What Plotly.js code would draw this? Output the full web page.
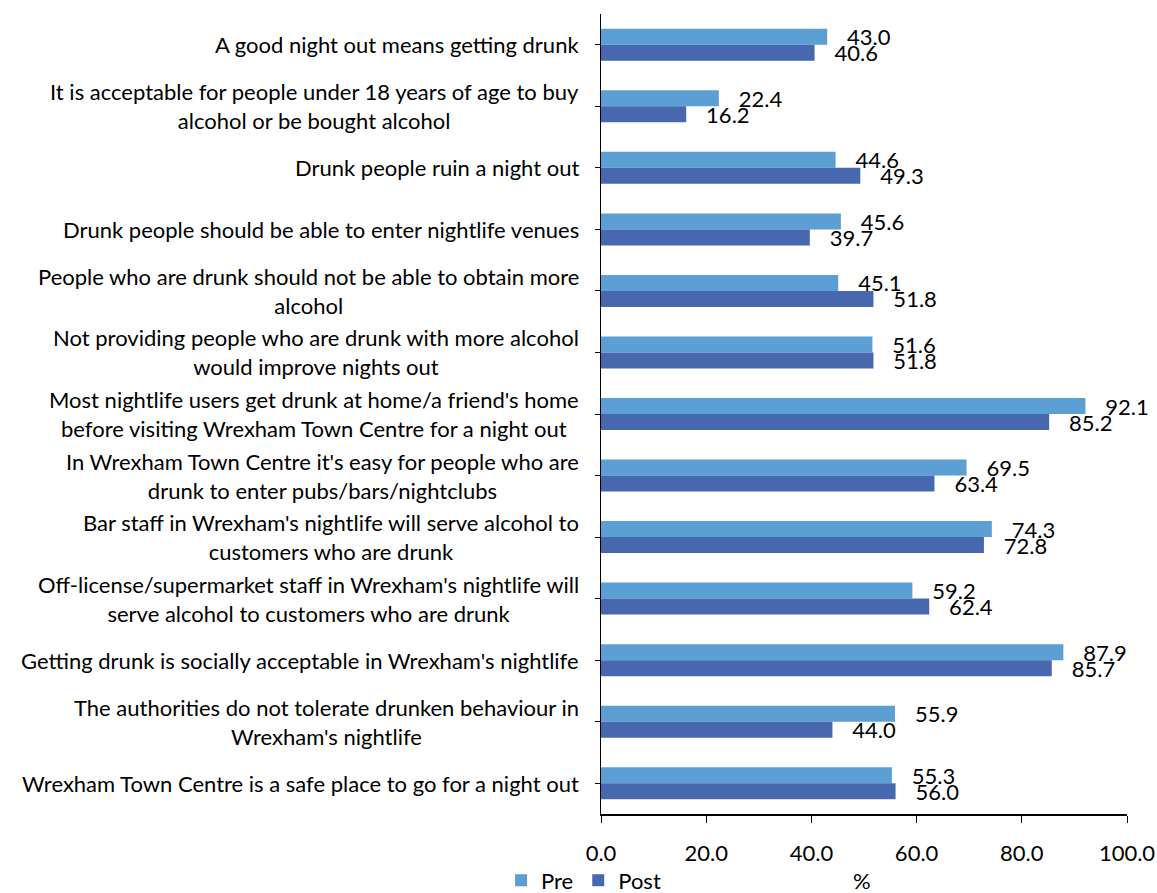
<!DOCTYPE html>
<html><head><meta charset="utf-8">
<script src="https://cdn.plot.ly/plotly-3.0.1.min.js"></script>
<style>html,body{margin:0;padding:0;background:#fff}#chart{width:1157px;height:893px}</style>
</head><body><div id="chart"></div>
<script>
const categories = [
  "A good night out means getting drunk",
  "It is acceptable for people under 18 years of age to buy<br>alcohol or be bought alcohol",
  "Drunk people ruin a night out",
  "Drunk people should be able to enter nightlife venues",
  "People who are drunk should not be able to obtain more<br>alcohol",
  "Not providing people who are drunk with more alcohol<br>would improve nights out",
  "Most nightlife users get drunk at home/a friend's home<br>before visiting Wrexham Town Centre for a night out",
  "In Wrexham Town Centre it's easy for people who are<br>drunk to enter pubs/bars/nightclubs",
  "Bar staff in Wrexham's nightlife will serve alcohol to<br>customers who are drunk",
  "Off-license/supermarket staff in Wrexham's nightlife will<br>serve alcohol to customers who are drunk",
  "Getting drunk is socially acceptable in Wrexham's nightlife",
  "The authorities do not tolerate drunken behaviour in<br>Wrexham's nightlife",
  "Wrexham Town Centre is a safe place to go for a night out"
];
const preValues  = [43.0, 22.4, 44.6, 45.6, 45.1, 51.6, 92.1, 69.5, 74.3, 59.2, 87.9, 55.9, 55.3];
const postValues = [40.6, 16.2, 49.3, 39.7, 51.8, 51.8, 85.2, 63.4, 72.8, 62.4, 85.7, 44.0, 56.0];
const seriesNames = ["Pre", "Post"];
const xTicks = [0, 20, 40, 60, 80, 100];

const FONT = "Lato, 'Open Sans', sans-serif";
const FS = 22;
const traces = [
  {type:'bar', orientation:'h', name:seriesNames[0], y:categories, x:preValues,
   marker:{color:'#5B9FD4'}, text:preValues.map(v=>'   '+v.toFixed(1)), textposition:'outside',
   constraintext:'none', textfont:{size:FS,color:'#000',family:FONT}, cliponaxis:false},
  {type:'bar', orientation:'h', name:seriesNames[1], y:categories, x:postValues,
   marker:{color:'#4767AF'}, text:postValues.map(v=>'   '+v.toFixed(1)), textposition:'outside',
   constraintext:'none', textfont:{size:FS,color:'#000',family:FONT}, cliponaxis:false}
];
const annotations = categories.map(c=>({
  xref:'paper', yref:'y', x:0, y:c, xanchor:'right', yanchor:'middle', xshift:-20,
  text:c, showarrow:false, align:'center', font:{size:FS,color:'#000',family:FONT}
}));
annotations.push({xref:'paper', yref:'paper', x:0.496, y:-0.083, yanchor:'middle', xanchor:'center',
  text:'%', showarrow:false, font:{size:FS,color:'#000',family:FONT}});
const layout = {
  width:1157, height:893,
  margin:{l:601, r:30, t:14, b:79, autoexpand:false},
  paper_bgcolor:'#fff', plot_bgcolor:'#fff',
  barmode:'group', bargap:0.48, bargroupgap:0,
  font:{family:FONT, size:FS, color:'#000'},
  xaxis:{range:[0,100], tickvals:xTicks, tickformat:'.1f', showgrid:false, zeroline:false,
    showline:true, linecolor:'#000', linewidth:1.5, ticks:'outside', ticklen:7, tickcolor:'#000',
    ticklabelstandoff:12, tickfont:{size:FS}, automargin:false},
  yaxis:{autorange:'reversed', showticklabels:false, showgrid:false, zeroline:false, automargin:false,
    showline:true, linecolor:'#000', linewidth:1.5, ticks:'outside', ticklen:5, tickcolor:'#000'},
  showlegend:true,
  legend:{orientation:'h', x:-0.19, xanchor:'left', y:-0.083, yanchor:'middle',
    bgcolor:'rgba(0,0,0,0)', font:{size:FS}, traceorder:'normal', itemwidth:30, tracegroupgap:0},
  annotations:annotations
};
Plotly.newPlot('chart', traces, layout, {displayModeBar:false, staticPlot:true});
</script></body></html>
